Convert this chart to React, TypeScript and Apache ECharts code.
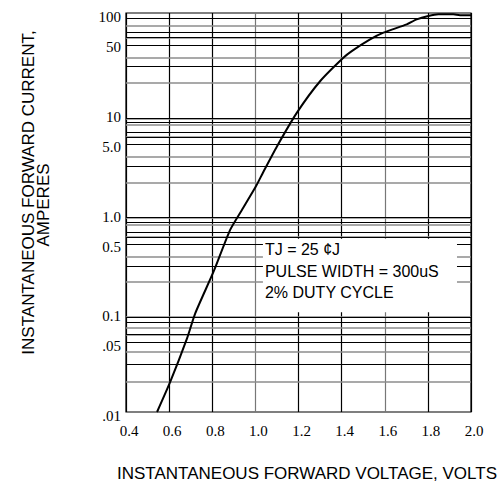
import React, { useEffect, useRef } from "react";
import * as echarts from "echarts";

// Forward voltage (V) vs instantaneous forward current (A)
const VOLTAGE = [0.544, 0.605, 0.683, 0.721, 0.806, 0.883, 0.9375, 1.002, 1.038, 1.1, 1.192, 1.3, 1.408, 1.447, 1.532, 1.594, 1.702, 1.748, 1.802, 1.849, 1.918, 1.949, 2.0];
const CURRENT = [0.01, 0.02, 0.0547, 0.0975, 0.255, 0.67, 1.06, 1.82, 2.58, 4.6, 9.98, 20.7, 35.6, 41.5, 54.4, 63.5, 76.9, 86.4, 93.4, 97, 97, 94.9, 94.9];

// y tick labels (log axis)
const Y_TICKS = [100, 50, 10, 5, 1, 0.5, 0.1, 0.05, 0.01];
const Y_TICK_LABELS = ["100", "50", "10", "5.0", "1.0", "0.5", "0.1", ".05", ".01"];

// grid line multipliers per decade
const DECADES = [0.01, 0.1, 1, 10];
const BLACK_MULT = [0.8, 2.9, 4.8, 5.7, 6.4, 8.9];
const GRAY_MULT = [0.88, 2.0, 3.6, 5.7, 7.5];

const NOTE_LINES = ["TJ = 25 ¢J", "PULSE WIDTH = 300uS", "2% DUTY CYCLE"];
const NOTE_X = [1.035, 1.935];
const NOTE_Y = [0.545, 0.1];

const X_TITLE = "INSTANTANEOUS FORWARD VOLTAGE, VOLTS";
const Y_TITLE_1 = "INSTANTANEOUS FORWARD CURRENT,";
const Y_TITLE_2 = "AMPERES";

const SANS = "'Liberation Sans', Arial, sans-serif";
const SERIF = "'Liberation Serif', 'Times New Roman', serif";

export default function App() {
  const ref = useRef<HTMLDivElement>(null);
  useEffect(() => {
    if (!ref.current) return;
    const chart = echarts.init(ref.current, undefined, { renderer: "svg" });
    const inRange = (v: number) => v > 0.01 && v < 100;
    const blackLines: number[] = [];
    const grayLines: number[] = [];
    DECADES.forEach((d) => {
      BLACK_MULT.forEach((m) => { const v = d * m; if (inRange(v)) blackLines.push(v); });
      GRAY_MULT.forEach((m) => { const v = d * m; if (inRange(v)) grayLines.push(v); });
    });
    const gridData: any[] = [
      ...grayLines.map((v) => ({ yAxis: v, lineStyle: { color: "#8c8c8c", width: 1.6, type: "solid" }, label: { show: false } })),
      ...blackLines.map((v) => ({ yAxis: v, lineStyle: { color: "#000", width: 1, type: "solid" }, label: { show: false } })),
      ...Y_TICKS.map((v, i) => ({
        yAxis: v,
        lineStyle: { color: "rgba(0,0,0,0)", width: 1 },
        label: {
          show: true,
          position: "start",
          distance: 5,
          offset: [0, 4],
          formatter: Y_TICK_LABELS[i],
          color: "#000",
          opacity: 1,
          fontFamily: SERIF,
          fontSize: 15,
        },
      })),
    ];
    chart.setOption({
      animation: false,
      grid: {
        left: 126,
        right: 33,
        top: 13,
        bottom: 85,
        show: true,
        borderColor: "#000",
        borderWidth: 1.2,
        backgroundColor: "transparent",
      },
      xAxis: {
        type: "value",
        min: 0.4,
        max: 2.0,
        interval: 0.2,
        axisLine: { show: false },
        axisTick: { show: false },
        axisLabel: {
          color: "#000",
          fontFamily: SERIF,
          fontSize: 15,
          margin: 11,
          padding: [0, 0, 0, 6],
          formatter: (v: number) => v.toFixed(1),
        },
        splitLine: {
          show: true,
          lineStyle: {
            color: ["#000", "#000", "#000", "#777", "#000", "#000", "#777", "#000", "#000"],
            width: 1.2,
          },
        },
      },
      yAxis: {
        type: "log",
        logBase: 10,
        min: 0.01,
        max: 100,
        axisLine: { show: false },
        axisTick: { show: false },
        axisLabel: { show: false },
        splitLine: { show: false },
      },
      series: [
        {
          type: "line",
          z: 5,
          data: VOLTAGE.map((v, i) => [v, CURRENT[i]]),
          showSymbol: false,
          symbol: "none",
          smooth: 0.2,
          lineStyle: { color: "#000", width: 2 },
          markLine: {
            z: 1,
            silent: true,
            animation: false,
            symbol: ["none", "none"],
            data: gridData,
          },
          markArea: {
            z: 3,
            silent: true,
            animation: false,
            itemStyle: { color: "#fff", opacity: 1 },
            label: {
              show: true,
              position: "insideTopLeft",
              distance: 0,
              offset: [2, 0],
              formatter: NOTE_LINES.join("\n"),
              color: "#000",
              fontFamily: SANS,
              fontSize: 16,
              lineHeight: 21.5,
            },
            data: [[{ xAxis: NOTE_X[0], yAxis: NOTE_Y[0] }, { xAxis: NOTE_X[1], yAxis: NOTE_Y[1] }]],
          },
        },
      ],
      graphic: [
        {
          type: "text",
          x: 307,
          y: 473,
          style: { text: X_TITLE, fill: "#000", font: `17px ${SANS}`, textAlign: "center", textVerticalAlign: "middle" },
        },
        {
          type: "text",
          x: 28.5,
          y: 192.5,
          rotation: Math.PI / 2,
          style: { text: Y_TITLE_1, fill: "#000", font: `17px ${SANS}`, textAlign: "center", textVerticalAlign: "middle" },
        },
        {
          type: "text",
          x: 43.5,
          y: 205,
          rotation: Math.PI / 2,
          style: { text: Y_TITLE_2, fill: "#000", font: `17px ${SANS}`, textAlign: "center", textVerticalAlign: "middle" },
        },
      ],
    });
    return () => chart.dispose();
  }, []);
  return <div ref={ref} style={{ position: "fixed", left: 0, top: 0, width: 504, height: 497, background: "#fff" }} />;
}
